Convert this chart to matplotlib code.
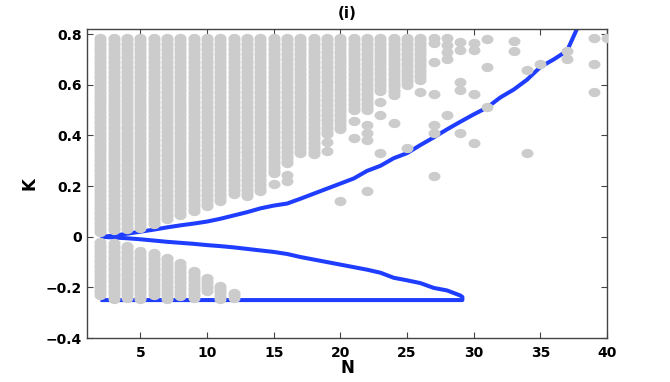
import numpy as np
import matplotlib.pyplot as plt
from matplotlib.path import Path

# gray columns above K = 0 : N, lowest K of the column (column runs up to 0.785)
pos_n = [2, 3, 4, 5, 6, 7, 8, 9, 10, 11, 12, 13, 14, 15, 16, 17, 18, 19, 20, 21, 22, 23, 24, 25, 26]
pos_lo = [0.02, 0.025, 0.03, 0.035, 0.05, 0.07, 0.085, 0.10, 0.12, 0.14, 0.17, 0.16, 0.18,
          0.25, 0.29, 0.33, 0.325, 0.405, 0.425, 0.50, 0.50, 0.575, 0.56, 0.60, 0.62]
pos_hi = 0.785

# gray columns below K = 0 : N, top and bottom of the column
neg_n = [2, 3, 4, 5, 6, 7, 8, 9, 10, 11, 12]
neg_hi = [-0.022, -0.026, -0.035, -0.055, -0.064, -0.084, -0.105, -0.134, -0.164, -0.193, -0.223]
neg_lo = [-0.23, -0.247, -0.24, -0.247, -0.231, -0.247, -0.234, -0.24, -0.214, -0.247, -0.24]

# scattered single points
iso_n = [15, 16, 16, 19, 19, 20, 21, 21, 22, 22, 22, 22, 23, 23, 23, 24, 25, 26,
         27, 27, 27, 27, 27, 27, 27, 28, 28, 28, 28, 28, 29, 29, 29, 29, 29,
         30, 30, 30, 30, 31, 31, 31, 33, 33, 34, 34, 35, 37, 37, 39, 39, 39, 40]
iso_k = [0.21, 0.243, 0.22, 0.375, 0.34, 0.14, 0.455, 0.39, 0.44, 0.41, 0.38, 0.18,
         0.53, 0.48, 0.33, 0.45, 0.349, 0.572,
         0.783, 0.763, 0.69, 0.563, 0.44, 0.41, 0.24, 0.783, 0.756, 0.73, 0.70, 0.48,
         0.77, 0.736, 0.61, 0.58, 0.41,
         0.765, 0.736, 0.562, 0.37, 0.78, 0.67, 0.512, 0.772, 0.732, 0.66, 0.332,
         0.681, 0.732, 0.70, 0.783, 0.681, 0.572, 0.783]

# blue boundary: upper branch
up_n = [2, 3, 4, 5, 6, 7, 8, 9, 10, 11, 12, 13, 14, 15, 16, 17, 18, 19, 20, 21,
        22, 23, 24, 25, 26, 27, 28, 29, 30, 31, 32, 33, 34, 35, 36, 37, 38]
up_k = [0.0, 0.004, 0.012, 0.02, 0.028, 0.037, 0.045, 0.052, 0.06, 0.071, 0.084, 0.097,
        0.112, 0.123, 0.131, 0.15, 0.17, 0.19, 0.21, 0.23, 0.26, 0.28, 0.31, 0.33, 0.362,
        0.392, 0.424, 0.454, 0.483, 0.51, 0.55, 0.581, 0.62, 0.67, 0.70, 0.734, 0.85]

# blue boundary: lower branch, returning along K = -0.25
low_n = [2, 3, 4, 5, 6, 7, 8, 9, 10, 11, 12, 13, 14, 15, 16, 17, 18, 19, 20, 21,
         22, 23, 24, 25, 26, 27, 28, 29, 29.15, 29.15, 2]
low_k = [0.0, -0.003, -0.006, -0.01, -0.015, -0.02, -0.024, -0.028, -0.033, -0.037,
         -0.042, -0.048, -0.054, -0.06, -0.068, -0.08, -0.09, -0.10, -0.11, -0.12,
         -0.13, -0.142, -0.162, -0.172, -0.183, -0.202, -0.212, -0.232, -0.238, -0.25, -0.25]

gray = '#cccccc'
blue = '#1f3dff'
step = 0.01

# build the point cloud
pts_n, pts_k = [], []
for n, lo in zip(pos_n, pos_lo):
    ks = np.linspace(lo, pos_hi, int(np.ceil((pos_hi - lo) / step)) + 1)
    pts_n += [n] * len(ks)
    pts_k += list(ks)
for n, hi, lo in zip(neg_n, neg_hi, neg_lo):
    ks = np.linspace(lo, hi, int(np.ceil((hi - lo) / step)) + 1)
    pts_n += [n] * len(ks)
    pts_k += list(ks)
pts_n += iso_n
pts_k += iso_k

# flattened ellipse marker
t = np.linspace(0, 2 * np.pi, 40)
ellipse = Path(np.column_stack([np.cos(t), 0.78 * np.sin(t)]), closed=True)

plt.rcParams['font.family'] = ['DejaVu Sans']
plt.rcParams['font.weight'] = 'bold'

fig = plt.figure(figsize=(6.7, 3.82), dpi=100)
ax = fig.add_axes([0.130, 0.115, 0.776, 0.809])

ax.plot(up_n, up_k, color=blue, lw=2.9, zorder=2, solid_capstyle='butt')
ax.plot(low_n, low_k, color=blue, lw=2.9, zorder=2, solid_capstyle='butt')
ax.plot(pts_n, pts_k, ls='none', marker=ellipse, ms=8.6, color=gray, mec='none', zorder=3)

ax.set_xlim(1, 40)
ax.set_ylim(-0.4, 0.82)
ax.set_xticks([5, 10, 15, 20, 25, 30, 35, 40])
ax.set_yticks([-0.4, -0.2, 0, 0.2, 0.4, 0.6, 0.8])
ax.set_yticklabels(['\u22120.4', '\u22120.2', '0', '0.2', '0.4', '0.6', '0.8'])

for s in ax.spines.values():
    s.set_color('#444444')
    s.set_linewidth(1.0)
ax.tick_params(direction='in', top=True, right=True, length=4, width=0.8,
               color='#444444', labelsize=10)
ax.tick_params(axis='x', pad=6)
ax.tick_params(axis='y', pad=4)
for lab in ax.get_xticklabels() + ax.get_yticklabels():
    lab.set_fontweight('bold')

ax.set_xlabel('N', fontsize=12, fontweight='bold', labelpad=-1)
ax.set_ylabel('K', fontsize=12, fontweight='bold', labelpad=5)
ax.set_title('(i)', fontsize=11, fontweight='bold', pad=8)

fig.savefig('out.png', dpi=100)
